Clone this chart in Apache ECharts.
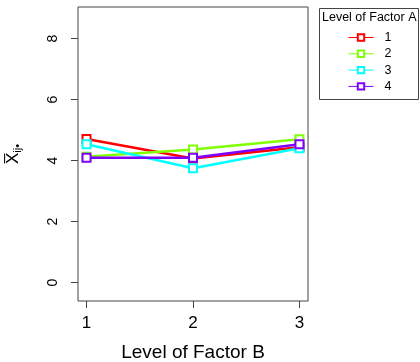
<!DOCTYPE html>
<html><head><meta charset="utf-8">
<script src="https://cdn.jsdelivr.net/npm/echarts@6/dist/echarts.min.js"></script>
<style>html,body{margin:0;padding:0;background:#fff}#c{width:420px;height:362px}</style>
</head><body><div id="c"></div>
<script>
const levelsB = [1, 2, 3];
const levelsA = ['1', '2', '3', '4'];
const colorsA = ['#FF0000', '#80FF00', '#00FFFF', '#8000FF'];
const meansA1 = [4.71, 4.07, 4.44];
const meansA2 = [4.13, 4.37, 4.70];
const meansA3 = [4.54, 3.75, 4.41];
const meansA4 = [4.10, 4.10, 4.54];
const yTicks = [0, 2, 4, 6, 8];
const xTicks = [1, 2, 3];
const allMeans = [meansA1, meansA2, meansA3, meansA4];

const chart = echarts.init(document.getElementById('c'), null, {renderer: 'canvas'});
const font = 'Liberation Sans, Arial, Helvetica, sans-serif';
const series = levelsA.map((name, i) => ({
  name: name,
  type: 'line',
  data: levelsB.map((b, j) => [b, allMeans[i][j]]),
  symbol: 'emptyRect',
  symbolSize: 8,
  showAllSymbol: true,
  lineStyle: {color: colorsA[i], width: 2.5},
  itemStyle: {color: colorsA[i], borderColor: colorsA[i], borderWidth: 2},
  emphasis: {disabled: true},
  animation: false,
  z: 2 + i
}));

chart.setOption({
  animation: false,
  textStyle: {fontFamily: font},
  grid: {left: 78, right: 112, top: 7, bottom: 61, outerBoundsMode: 'none', containLabel: false, show: true, borderColor: '#444', borderWidth: 1, backgroundColor: 'transparent'},
  xAxis: {
    type: 'value', min: 0.92, max: 3.08,
    name: 'Level of Factor B', nameLocation: 'middle', nameGap: 42,
    nameTextStyle: {fontSize: 19, color: '#000', fontFamily: font},
    axisLine: {show: false, onZero: false},
    axisTick: {show: true, inside: false, length: 7, lineStyle: {color: '#444'}, customValues: xTicks},
    axisLabel: {show: true, fontSize: 17, color: '#000', margin: 14, fontFamily: font, customValues: xTicks},
    splitLine: {show: false}
  },
  yAxis: {
    type: 'value', min: -0.6, max: 9.04,
    name: '{o|X\u0305}{s|ij•}', nameLocation: 'middle', nameRotate: 90, nameGap: 55,
    nameTextStyle: {
      color: '#000',
      rich: {
        o: {fontSize: 17, lineHeight: 20, fontFamily: font, color: '#000', verticalAlign: 'middle'},
        s: {fontSize: 11, lineHeight: 11, fontFamily: font, color: '#000', verticalAlign: 'bottom'}
      }
    },
    axisLine: {show: false, onZero: false},
    axisTick: {show: true, length: 7, lineStyle: {color: '#444'}, customValues: yTicks},
    axisLabel: {show: true, fontSize: 14, color: '#000', margin: 18, rotate: 90, fontFamily: font, customValues: yTicks},
    splitLine: {show: false}
  },
  legend: {
    data: levelsA,
    orient: 'vertical',
    left: 348, top: 31,
    itemWidth: 25, itemHeight: 8, itemGap: 3.3,
    padding: 0,
    textStyle: {fontSize: 12.5, color: '#000', lineHeight: 12, padding: [0, 0, 0, 6], fontFamily: font},
    lineStyle: {width: 1},
    itemStyle: {borderWidth: 1},
    selectedMode: false
  },
  graphic: [
    {type: 'rect', shape: {x: 319.5, y: 8.5, width: 99, height: 91}, style: {fill: 'none', stroke: '#444', lineWidth: 1}},
    {type: 'text', x: 322, y: 18, style: {text: 'Level of Factor A', fontSize: 12.5, fill: '#000', font: '12.5px ' + font, textVerticalAlign: 'middle'}}
  ],
  series: series
});
</script></body></html>
